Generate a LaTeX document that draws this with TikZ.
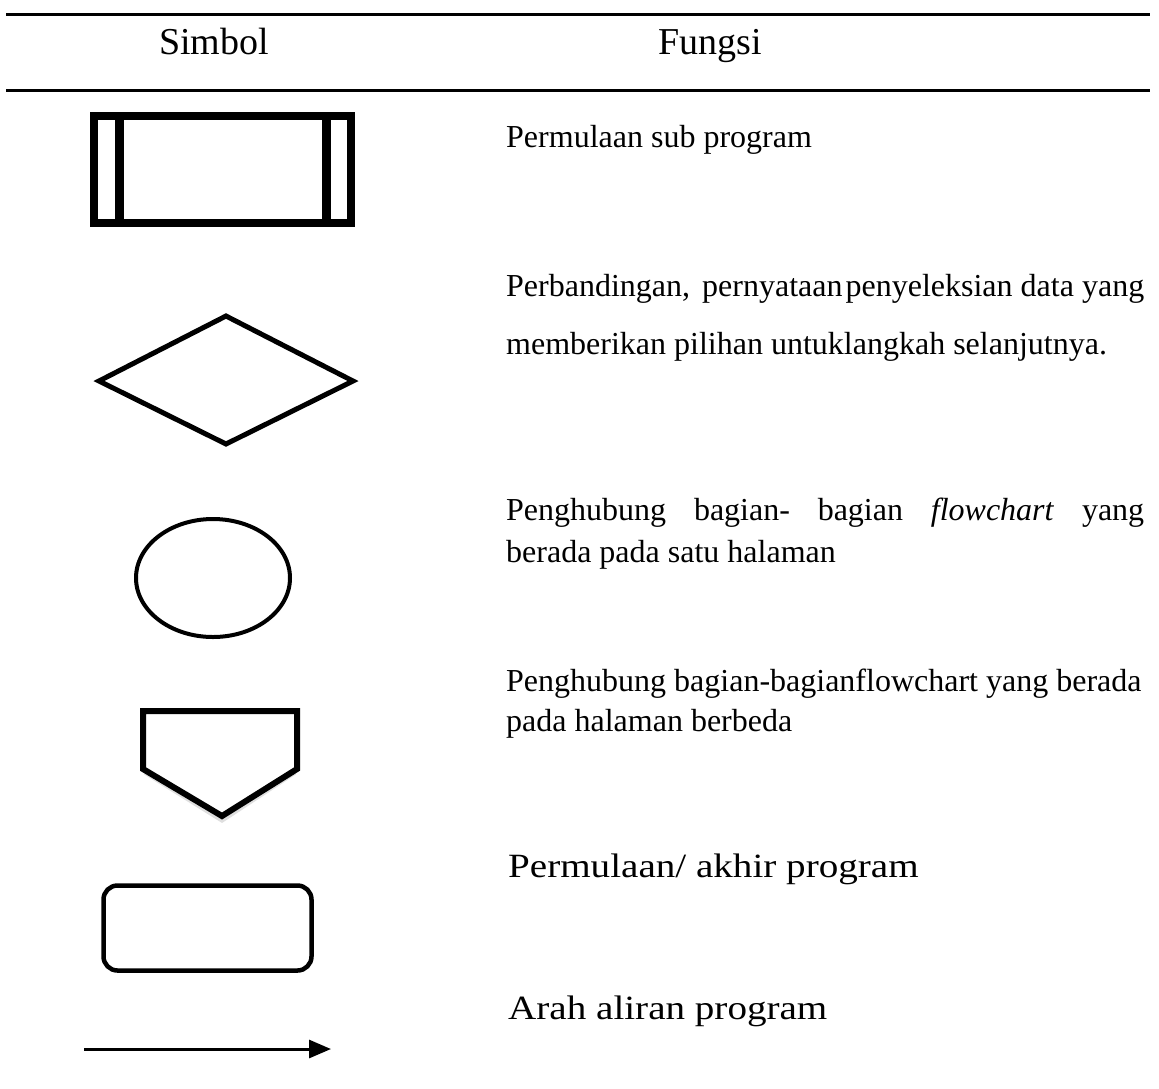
\documentclass[tikz,border=0pt]{standalone}
\usepackage{fontspec}
\setmainfont{Liberation Serif}
\usetikzlibrary{arrows.meta}
\newcommand{\widetext}[2]{\scalebox{#1}[1]{#2}}
\begin{document}
\begin{tikzpicture}[x=1pt,y=-1pt,
  rule/.style={line width=3pt},
  head/.style={font=\fontsize{38}{42}\selectfont, inner sep=0pt, anchor=base},
  body/.style={font=\fontsize{32}{36}\selectfont, anchor=west, inner sep=0pt},
  wide/.style={font=\fontsize{34}{40}\selectfont, anchor=west, inner sep=0pt},
  thickshape/.style={line width=8.5pt, line join=miter},
  outline/.style={line width=#1, line join=miter},
]
\useasboundingbox (0,0) rectangle (1159,1088);

% table rules
\draw[rule] (6,14) -- (1150,14);
\draw[rule] (6,90) -- (1150,90);

% header
\node[head] (simbol) at (214,54) {Simbol};
\node[head] (fungsi) at (710,54) {Fungsi};

% predefined process (sub program)
\draw[thickshape] (94,116) rectangle (351,223);
\draw[thickshape] (119.5,116) -- (119.5,223);
\draw[thickshape] (326.5,116) -- (326.5,223);

% decision
\draw[outline=5pt] (226,316) -- (353,381) -- (226,444) -- (99,381) -- cycle;

% on-page connector
\draw[line width=4pt] (213,578) ellipse [x radius=77, y radius=59];

% off-page connector
\draw[black!25, line width=5pt, opacity=0.5] (145,772) -- (222,820) -- (295,772);
\draw[outline=6pt] (143,711) -- (143,769) -- (222,816) -- (297,769) -- (297,711) -- cycle;

% terminator
\draw[line width=4.5pt, rounded corners=14pt] (103.5,885.5) rectangle (311.5,970.5);

% flow direction
\coordinate (arrowstart) at (84,1049);
\coordinate (arrowend) at (331,1049);
\draw[line width=3pt, -{Triangle[length=22pt,width=18pt]}] (arrowstart) -- (arrowend);

% descriptions
\node[body] (t1) at (506,140) {Permulaan sub program};
\node[body] (t2a) at (506,289) {\makebox[638pt][s]{Perbandingan,\kern4pt{} pernyataan\kern3pt penyeleksian data yang}};
\node[body] (t2b) at (506,347) {memberikan pilihan untuklangkah selanjutnya.};
\node[body] (t3a) at (506,513) {\makebox[638pt][s]{Penghubung bagian- bagian \textit{flowchart} yang}};
\node[body] (t3b) at (506,555) {berada pada satu halaman};
\node[body] (t4a) at (506,684) {Penghubung bagian-bagianflowchart yang berada};
\node[body] (t4b) at (506,724) {pada halaman berbeda};
\node[wide] (t5) at (508,869) {\widetext{1.15}{Permulaan/ akhir program}};
\node[wide] (t6) at (508,1011) {\widetext{1.15}{Arah aliran program}};
\end{tikzpicture}
\end{document}
